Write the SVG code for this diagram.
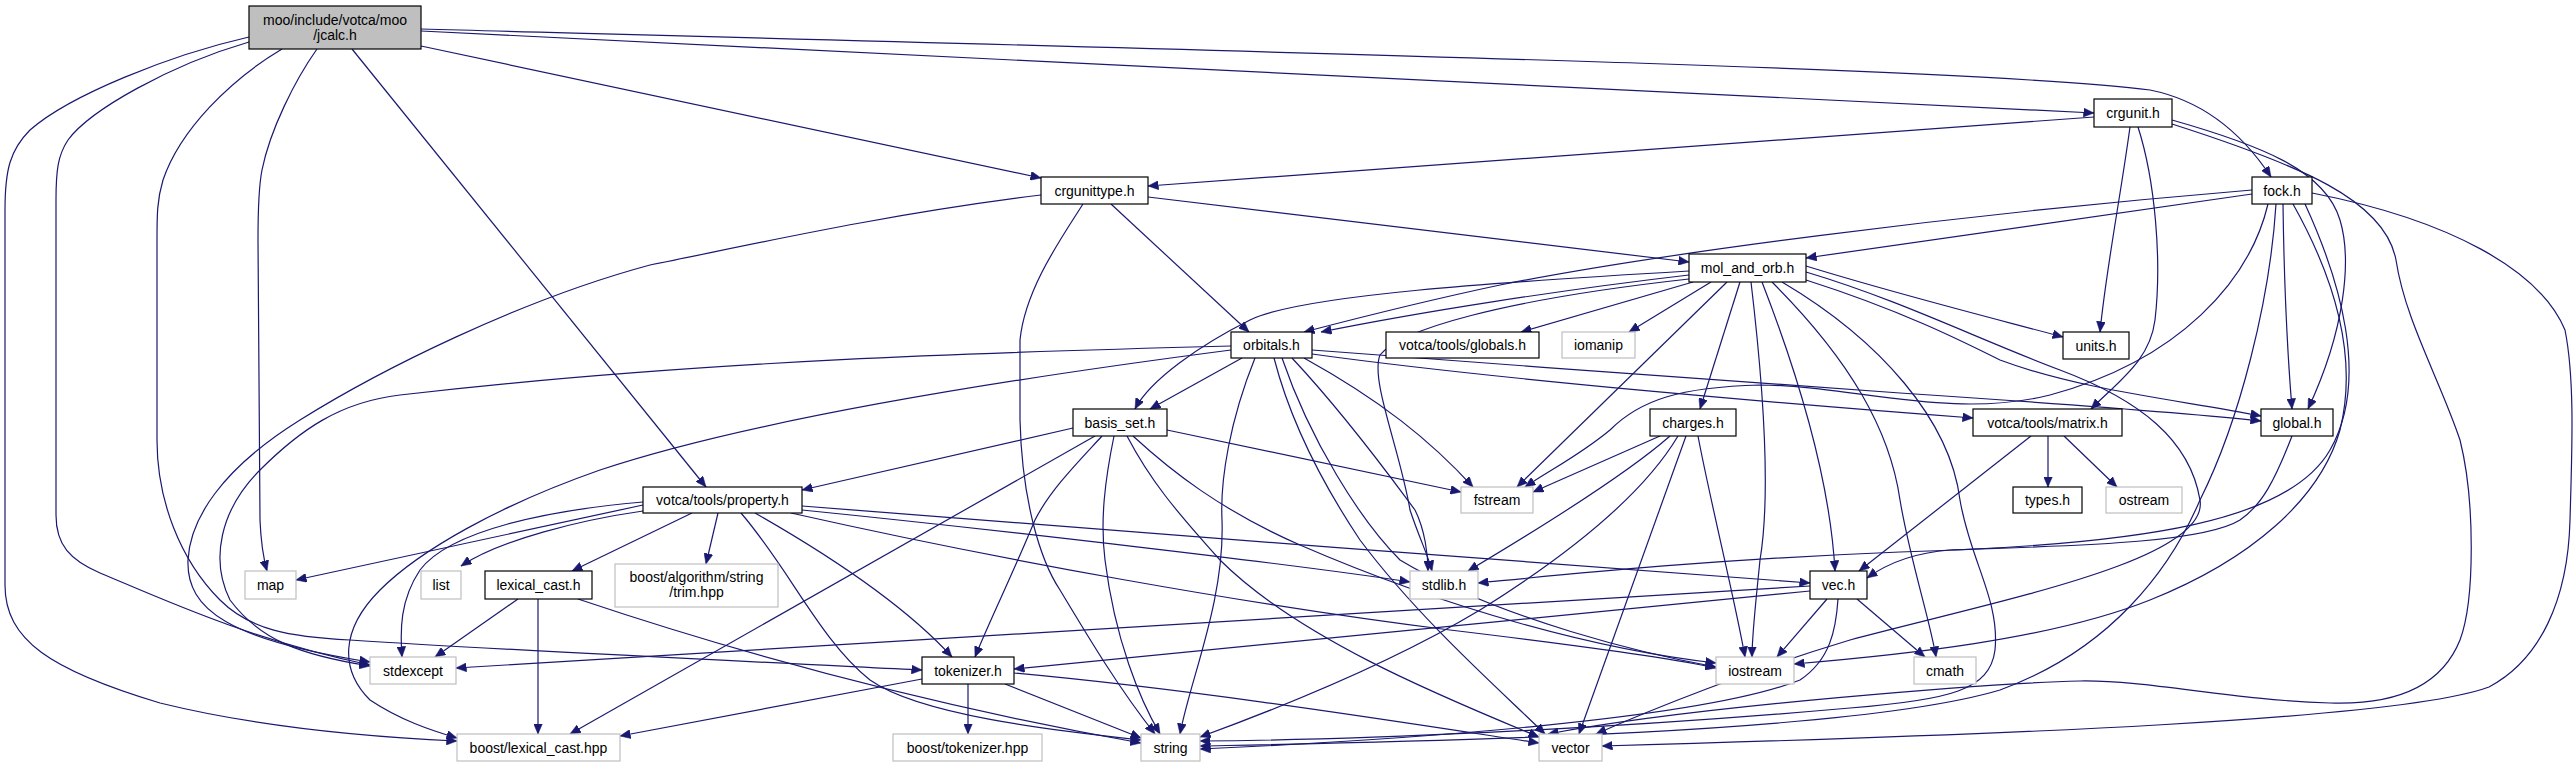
<svg xmlns="http://www.w3.org/2000/svg" width="2576" height="768" viewBox="0 0 2576 768">
<style>
.n rect{fill:#ffffff;stroke:#000000;stroke-width:1.2}
.x rect{fill:#ffffff;stroke:#bfbfbf;stroke-width:1.2}
.root rect{fill:#bfbfbf;stroke:#000000;stroke-width:1.2}
text{font-family:"Liberation Sans",Arial,sans-serif;font-size:14px;text-anchor:middle;fill:#000000}
.e path{fill:none;stroke:#191970;stroke-width:1.2;marker-end:url(#ah)}
</style>
<defs>
<marker id="ah" markerUnits="userSpaceOnUse" markerWidth="11" markerHeight="9" refX="10.5" refY="4.5" orient="auto">
<path d="M0,0 L10.5,4.5 L0,9 z" fill="#191970" stroke="#191970" stroke-width="0.5"/>
</marker>
</defs>
<rect x="0" y="0" width="2576" height="768" fill="#ffffff"/>
<g id="edges" class="e">
<!-- jcalc -->
<path d="M249,37 C170,55 70,95 30,130 C10,150 5,170 5,210 L5,585 C5,640 50,670 160,703 C270,730 390,738 457,741"/>
<path d="M249,42 C170,65 90,110 68,140 C58,155 56,170 56,200 L56,515 C56,545 70,560 100,573 C160,598 250,640 370,665"/>
<path d="M282,49 C230,80 180,130 163,180 C157,200 157,215 157,240 L157,440 C157,500 180,560 220,600 C250,630 290,637 350,640 C500,650 800,664 922,670"/>
<path d="M317,49 C295,80 270,130 262,170 C259,185 258,200 258,240 L260,520 C261,545 264,560 267,571"/>
<path d="M352,49 L706,487"/>
<path d="M421,46 L1041,178"/>
<path d="M421,31 L2094,113"/>
<path d="M421,29 C1400,55 2000,70 2150,90 C2200,100 2240,130 2271,177"/>
<!-- crgunittype -->
<path d="M1041,195 C880,215 750,245 650,265 C520,300 380,370 300,420 C220,470 190,520 188,560 C186,610 230,640 370,662"/>
<path d="M1083,204 C1060,240 1025,290 1020,340 L1020,420 C1022,500 1040,560 1060,590 C1090,640 1120,690 1155,734"/>
<path d="M1111,204 L1249,332"/>
<path d="M1148,197 L1689,262"/>
<!-- crgunit -->
<path d="M2094,117 L1148,186"/>
<path d="M2130,127 C2120,200 2106,270 2100,332"/>
<path d="M2138,127 C2155,180 2162,260 2155,320 C2150,360 2120,380 2091,409"/>
<path d="M2172,120 C2260,145 2325,170 2340,220 C2352,260 2345,330 2308,409"/>
<path d="M2172,124 C2300,165 2385,200 2396,260 C2405,320 2440,380 2460,440 C2475,500 2475,600 2460,640 C2440,690 2390,705 2330,703 C2230,700 2150,680 2080,681 C2000,683 1700,705 1548,734"/>
<!-- fock -->
<path d="M2252,190 C1950,215 1650,255 1500,285 C1420,302 1350,320 1304,332"/>
<path d="M2252,194 L1806,258"/>
<path d="M2268,204 C2250,280 2180,360 2050,395 C1950,420 1850,385 1760,385 C1680,387 1640,400 1610,430 C1580,455 1550,470 1525,487"/>
<path d="M2276,204 C2270,300 2240,420 2200,500 C2170,570 2110,650 2000,690 C1850,735 1400,742 1200,746"/>
<path d="M2283,204 C2284,280 2288,360 2292,409"/>
<path d="M2293,204 C2330,270 2360,350 2340,430 C2320,500 2250,560 2150,600 C2050,640 1900,655 1794,664"/>
<path d="M2305,204 C2340,280 2370,380 2330,450 C2290,520 2150,545 1900,552 C1700,560 1560,575 1478,583"/>
<path d="M2312,193 C2450,220 2540,270 2565,330 C2575,380 2572,450 2570,520 C2568,600 2540,660 2489,687 C2400,720 2000,735 1602,746"/>
<!-- mol_and_orb -->
<path d="M1689,271 C1500,282 1300,295 1250,320 C1200,345 1150,380 1135,409"/>
<path d="M1689,275 C1560,290 1420,312 1321,332"/>
<path d="M1689,279 C1500,300 1400,330 1380,355 C1370,380 1400,450 1410,510 C1420,540 1428,555 1432,571"/>
<path d="M1693,282 L1521,332"/>
<path d="M1711,282 L1629,332"/>
<path d="M1727,282 L1517,487"/>
<path d="M1740,282 L1700,409"/>
<path d="M1751,282 C1765,400 1770,500 1760,560 C1755,610 1752,635 1752,657"/>
<path d="M1762,282 C1800,380 1830,480 1835,571"/>
<path d="M1772,282 C1850,360 1890,430 1900,500 C1910,560 1930,620 1936,657"/>
<path d="M1782,282 C1880,340 1950,420 1960,500 C1970,560 2000,600 1995,650 C1990,690 1950,700 1850,708 C1600,730 1350,740 1200,741"/>
<path d="M1806,272 C1900,300 1980,340 2060,370 C2140,400 2190,440 2200,500 C2210,560 2000,600 1850,640 C1750,670 1650,710 1596,734"/>
<path d="M1806,266 C1900,295 2000,320 2063,337"/>
<path d="M1806,280 C1900,310 1960,340 2000,360 C2080,390 2180,400 2261,416"/>
<!-- orbitals -->
<path d="M1231,346 C1000,352 700,360 400,395 C340,402 300,430 260,470 C220,510 210,560 230,600 C260,640 300,655 370,666"/>
<path d="M1231,350 C1000,380 750,420 600,470 C500,505 420,550 380,590 C340,630 340,670 370,700 C400,720 430,730 457,738"/>
<path d="M1242,358 L1150,409"/>
<path d="M1304,358 C1380,400 1430,440 1473,487"/>
<path d="M1255,358 C1230,420 1220,480 1222,520 C1225,600 1190,680 1180,734"/>
<path d="M1274,358 C1290,420 1320,480 1360,540 C1420,620 1500,690 1545,734"/>
<path d="M1282,358 C1310,440 1360,520 1400,560 C1500,620 1650,655 1716,667"/>
<path d="M1292,358 C1350,420 1400,490 1415,510 C1425,530 1428,555 1428,571"/>
<path d="M1312,350 C1500,365 1800,385 1900,393 C2050,403 2180,412 2261,421"/>
<path d="M1312,354 C1500,380 1800,405 1973,418"/>
<!-- basis_set -->
<path d="M1073,428 L802,490"/>
<path d="M1095,436 L570,734"/>
<path d="M1102,436 C1080,460 1050,490 1035,520 C1010,580 990,620 975,657"/>
<path d="M1114,436 C1105,480 1100,520 1105,560 C1115,640 1140,700 1160,734"/>
<path d="M1127,436 C1150,480 1175,510 1220,560 C1300,640 1450,700 1539,737"/>
<path d="M1133,436 C1170,470 1220,510 1300,545 C1450,610 1600,650 1716,663"/>
<path d="M1167,430 L1461,492"/>
<!-- charges -->
<path d="M1660,436 L1533,492"/>
<path d="M1670,436 C1620,480 1520,540 1468,571"/>
<path d="M1678,436 C1640,500 1560,560 1480,610 C1380,670 1260,715 1200,737"/>
<path d="M1686,436 L1579,734"/>
<path d="M1698,436 C1710,500 1735,600 1745,657"/>
<!-- matrix -->
<path d="M2031,436 L1859,571"/>
<path d="M2048,436 L2048,487"/>
<path d="M2064,436 L2117,487"/>
<!-- global -->
<path d="M2292,436 C2275,480 2262,505 2240,520 C2200,545 2050,546 1950,550 C1910,553 1885,565 1867,578"/>
<!-- vec -->
<path d="M1810,586 L456,668"/>
<path d="M1810,591 L1014,669"/>
<path d="M1827,599 L1777,657"/>
<path d="M1857,599 L1925,657"/>
<path d="M1838,599 C1836,630 1830,660 1800,680 C1700,720 1400,740 1200,749"/>
<!-- tokenizer -->
<path d="M922,679 L620,736"/>
<path d="M968,684 L968,734"/>
<path d="M1005,684 L1141,738"/>
<path d="M1014,673 C1200,690 1400,722 1539,743"/>
<!-- lexical_cast -->
<path d="M518,599 L435,657"/>
<path d="M538,599 L538,734"/>
<path d="M578,599 C700,640 900,700 1141,743"/>
<!-- property -->
<path d="M643,505 L296,580"/>
<path d="M643,511 C580,520 500,540 461,566"/>
<path d="M692,513 L572,571"/>
<path d="M643,502 C550,510 450,530 420,570 C400,600 400,630 402,657"/>
<path d="M718,513 L706,564"/>
<path d="M755,513 C820,550 900,600 952,657"/>
<path d="M741,513 C790,570 820,640 870,680 C920,715 1050,730 1141,740"/>
<path d="M802,506 C1100,530 1500,560 1810,583"/>
<path d="M802,510 C1000,530 1300,565 1410,582"/>
<path d="M791,513 C1000,560 1250,605 1450,630 C1600,648 1680,660 1716,668"/>
</g>
<g id="n-jcalc" class="root"><rect x="249" y="6" width="172" height="43"/><text x="335" y="24.5">moo/include/votca/moo</text><text x="335" y="39.5">/jcalc.h</text></g>
<g id="n-crgunit" class="n"><rect x="2094" y="99" width="78" height="28"/><text x="2133" y="118">crgunit.h</text></g>
<g id="n-crgunittype" class="n"><rect x="1041" y="177" width="107" height="27"/><text x="1094.5" y="195.5">crgunittype.h</text></g>
<g id="n-fock" class="n"><rect x="2252" y="177" width="60" height="27"/><text x="2282" y="195.5">fock.h</text></g>
<g id="n-mol_and_orb" class="n"><rect x="1689" y="254" width="117" height="28"/><text x="1747.5" y="273">mol_and_orb.h</text></g>
<g id="n-orbitals" class="n"><rect x="1231" y="332" width="81" height="26"/><text x="1271.5" y="350">orbitals.h</text></g>
<g id="n-globals" class="n"><rect x="1386" y="332" width="153" height="26"/><text x="1462.5" y="350">votca/tools/globals.h</text></g>
<g id="n-iomanip" class="x"><rect x="1562" y="332" width="73" height="26"/><text x="1598.5" y="350">iomanip</text></g>
<g id="n-units" class="n"><rect x="2063" y="332" width="66" height="27"/><text x="2096" y="350.5">units.h</text></g>
<g id="n-basis_set" class="n"><rect x="1073" y="409" width="94" height="27"/><text x="1120" y="427.5">basis_set.h</text></g>
<g id="n-charges" class="n"><rect x="1650" y="409" width="86" height="27"/><text x="1693" y="427.5">charges.h</text></g>
<g id="n-matrix" class="n"><rect x="1973" y="409" width="149" height="27"/><text x="2047.5" y="427.5">votca/tools/matrix.h</text></g>
<g id="n-global" class="n"><rect x="2261" y="409" width="72" height="27"/><text x="2297" y="427.5">global.h</text></g>
<g id="n-property" class="n"><rect x="643" y="487" width="159" height="26"/><text x="722.5" y="505">votca/tools/property.h</text></g>
<g id="n-fstream" class="x"><rect x="1461" y="487" width="72" height="26"/><text x="1497" y="505">fstream</text></g>
<g id="n-types" class="n"><rect x="2013" y="487" width="69" height="26"/><text x="2047.5" y="505">types.h</text></g>
<g id="n-ostream" class="x"><rect x="2106" y="487" width="76" height="26"/><text x="2144" y="505">ostream</text></g>
<g id="n-map" class="x"><rect x="245" y="571" width="51" height="28"/><text x="270.5" y="590">map</text></g>
<g id="n-list" class="x"><rect x="421" y="571" width="40" height="28"/><text x="441" y="590">list</text></g>
<g id="n-lexical_cast" class="n"><rect x="485" y="571" width="107" height="28"/><text x="538.5" y="590">lexical_cast.h</text></g>
<g id="n-trim" class="x"><rect x="615" y="564" width="163" height="43"/><text x="696.5" y="582">boost/algorithm/string</text><text x="696.5" y="597">/trim.hpp</text></g>
<g id="n-stdlib" class="x"><rect x="1410" y="571" width="68" height="28"/><text x="1444" y="590">stdlib.h</text></g>
<g id="n-vec" class="n"><rect x="1810" y="571" width="57" height="28"/><text x="1838.5" y="590">vec.h</text></g>
<g id="n-stdexcept" class="x"><rect x="370" y="657" width="86" height="27"/><text x="413" y="675.5">stdexcept</text></g>
<g id="n-tokenizer" class="n"><rect x="922" y="657" width="92" height="27"/><text x="968" y="675.5">tokenizer.h</text></g>
<g id="n-iostream" class="x"><rect x="1716" y="657" width="78" height="27"/><text x="1755" y="675.5">iostream</text></g>
<g id="n-cmath" class="x"><rect x="1914" y="657" width="62" height="27"/><text x="1945" y="675.5">cmath</text></g>
<g id="n-boost_lexical_cast" class="x"><rect x="457" y="734" width="163" height="27"/><text x="538.5" y="752.5">boost/lexical_cast.hpp</text></g>
<g id="n-boost_tokenizer" class="x"><rect x="893" y="734" width="149" height="27"/><text x="967.5" y="752.5">boost/tokenizer.hpp</text></g>
<g id="n-string" class="x"><rect x="1141" y="734" width="59" height="27"/><text x="1170.5" y="752.5">string</text></g>
<g id="n-vector" class="x"><rect x="1539" y="734" width="63" height="27"/><text x="1570.5" y="752.5">vector</text></g>
</svg>
